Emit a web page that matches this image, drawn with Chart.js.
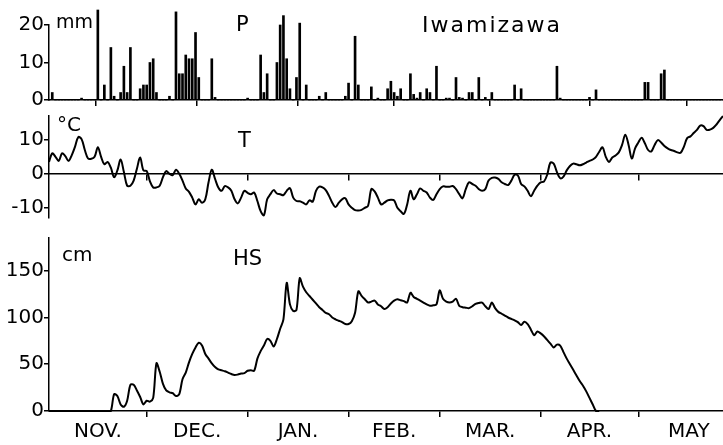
<!DOCTYPE html>
<html>
<head>
<meta charset="utf-8">
<script src="https://cdn.jsdelivr.net/npm/chart.js@4.4.0/dist/chart.umd.min.js"></script>
<style>
  body { margin: 0; background: #fff; }
  #wrap { position: relative; width: 723px; height: 445px; overflow: hidden; }
  .panel { position: absolute; left: 0; width: 723px; }
</style>
</head>
<body>
<div id="wrap">
  <div class="panel" style="top:0;height:112px"><canvas id="pChart"></canvas></div>
  <div class="panel" style="top:104px;height:126px"><canvas id="tChart"></canvas></div>
  <div class="panel" style="top:226px;height:219px"><canvas id="hsChart"></canvas></div>
</div>
<script>
// day 0 = 1 Nov, one value per day
const monthNames = ['NOV.', 'DEC.', 'JAN.', 'FEB.', 'MAR.', 'APR.', 'MAY'];
const monthStarts = [0, 30, 61, 92, 120, 151, 181];
const monthMids = [15, 45.5, 76.5, 106, 135.5, 166, 196.5];
const lastDay = 207;

// daily precipitation, mm
const precip = [
  0, 2, 0, 0, 0, 0, 0, 0, 0, 0,
  0.5, 0, 0, 0, 0, 24, 0, 4, 0, 14,
  1, 0, 2, 9, 2, 14, 0, 0, 3, 4,
  4, 10, 11, 2, 0, 0, 0, 1, 0, 23.5,
  7, 7, 12, 11, 11, 18, 6, 0, 0, 0,
  11, 0.7, 0, 0, 0, 0, 0, 0, 0, 0,
  0, 0.5, 0, 0, 0, 12, 2, 7, 0, 0,
  10, 20, 22.5, 11, 3, 0, 6, 20.5, 0, 4,
  0, 0, 0, 1, 0, 2, 0, 0, 0, 0,
  0, 1, 4.5, 0, 17, 4, 0, 0, 0, 3.5,
  0, 0.5, 0, 0, 3, 5, 2, 1, 3, 0,
  0, 7, 1.5, 0.5, 2, 0, 3, 2, 0, 9,
  0, 0, 0.5, 0.5, 0, 6, 0.7, 0.5, 0, 2,
  2, 0, 6, 0, 0.7, 0, 2, 0, 0, 0,
  0, 0, 0, 4, 0, 3, 0, 0, 0, 0,
  0, 0, 0, 0, 0, 0, 9, 0.5, 0, 0,
  0, 0, 0, 0, 0, 0, 0.7, 0, 2.7, 0,
  0, 0, 0, 0, 0, 0, 0, 0, 0, 0,
  0, 0, 0, 4.7, 4.7, 0, 0, 0, 7, 8,
  0, 0, 0, 0, 0, 0, 0, 0, 0, 0,
  0, 0, 0, 0, 0, 0, 0, 0
];

// daily mean air temperature, deg C
const temp = [
  3.5, 6, 5, 3.8, 6, 5.2, 3.8, 5.5, 8, 10.8,
  10.2, 7, 4.5, 4.4, 5, 7.8, 5, 2.8, 3.5, 1.8,
  -1, 1, 4.2, 0.5, -3.5, -3.5, -2, 1.5, 4.8, 1,
  0.8, -2.2, -4, -4, -3.5, -1, 0.8, 0, -0.4, 1.2,
  0, -2, -4.3, -5.3, -7, -9, -7.5, -8.5, -7.5, -2.5,
  1.2, -1.5, -4, -5, -3.6, -4, -5, -7.5, -8.7, -7,
  -5, -5.6, -6, -5.5, -8, -11, -12.2, -7.5, -6, -4.8,
  -5.8, -6, -6.3, -5, -4.2, -7, -8, -8.1, -8.5, -9,
  -7.8, -8.2, -5, -3.8, -4, -4.8, -6.5, -8.5, -9.8, -8.5,
  -7.5, -7.2, -9, -10, -10.7, -10.8, -10.6, -10, -9.4, -4.5,
  -5.2, -7, -9, -8.5, -7.8, -7.6, -7.8, -10, -11, -11.8,
  -9, -5, -7.5, -6, -4.3, -5, -5.5, -7, -7.7, -6,
  -4.5, -3.7, -3.8, -3.8, -3.6, -4.5, -6, -7.2, -4.5, -2.5,
  -3, -3.5, -4.5, -5, -4.5, -2, -1.2, -1.1, -1.5, -2.5,
  -3, -3.3, -2, -0.3, -0.5, -3, -3.7, -5, -6.6, -5,
  -3.5, -2.5, -2.3, -0.3, 3.3, 3, 0.5, -1.3, -0.8, 1,
  2.3, 3, 2.8, 2.5, 2.8, 3.3, 3.8, 4.2, 5, 6.5,
  7.8, 5, 3.5, 4.8, 5.4, 6.3, 8.5, 11.5, 8.5, 4.5,
  7.5, 9.2, 10.6, 9, 7, 6.6, 8.5, 9.9, 9.2, 8.2,
  7.5, 7, 6.7, 6.3, 6.2, 8, 10.5, 11, 12, 12.9,
  14.2, 14, 12.9, 13, 13.5, 14.5, 15.8, 17
];

// daily snow depth, cm
const snowDepth = [
  0, 0, 0, 0, 0, 0, 0, 0, 0, 0,
  0, 0, 0, 0, 0, 0, 0, 0, 0, 0,
  18, 16, 7, 4.5, 11, 28, 28, 22, 15, 7,
  11, 10, 14, 51, 42, 29, 22, 20, 19, 16,
  18, 34, 41, 52, 61, 68, 73, 70, 61, 56,
  51, 47, 44.5, 43.5, 42.5, 41, 39.5, 38.5, 39, 40,
  40.5, 43, 43.5, 43, 56, 64, 70, 77, 75, 69,
  77, 88, 98, 137, 114, 107, 108, 142, 133, 127,
  123, 119, 115, 111, 108, 105, 103.5, 100, 98, 96.5,
  95, 93, 93, 96, 105, 128, 123, 119.5, 116, 117,
  118, 114, 112, 109, 111, 115, 118, 119.5, 118.5, 117.5,
  116, 126.5, 122, 120, 118, 116, 114, 112.5, 113, 114,
  129, 120, 117, 116, 117, 120, 112.5, 111, 110.5, 110,
  112, 114.5, 115.5, 116, 112, 109, 116, 110, 106, 104,
  102, 100, 98.5, 97, 95, 92, 95.5, 93, 87, 81,
  85, 83, 80, 76, 72, 68, 71, 70, 63, 56,
  50, 44, 38, 32, 27, 21, 14, 7, 0, 0
];

const FONT = '"DejaVu Sans", Verdana, sans-serif';
const INK = '#000';

const textPlugin = {
  id: 'panelText',
  afterDraw(chart, args, opts) {
    const ctx = chart.ctx;
    ctx.save();
    ctx.fillStyle = INK;
    ctx.textBaseline = 'alphabetic';
    for (const t of opts.items || []) {
      ctx.font = t.size + 'px ' + FONT;
      ctx.letterSpacing = (t.spacing || 0) + 'px';
      ctx.fillText(t.text, t.x, t.y);
    }
    ctx.restore();
  }
};

function xAxis(tickValues, withLabels, extra) {
  return Object.assign({
    type: 'linear',
    min: 0,
    max: lastDay,
    offset: false,
    afterBuildTicks: s => { s.ticks = tickValues.map(v => ({ value: v })); },
    grid: {
      drawOnChartArea: false,
      tickLength: 6,
      lineWidth: 1.5,
      tickColor: c => (c.tick && c.tick.label) ? 'rgba(0,0,0,0)' : INK
    },
    border: { color: INK, width: 1.5 },
    ticks: {
      display: withLabels,
      autoSkip: false,
      maxRotation: 0,
      padding: 3,
      color: INK,
      font: { family: FONT, size: 20 },
      callback: v => {
        const i = monthMids.indexOf(v);
        return i >= 0 ? monthNames[i] : '';
      }
    }
  }, extra);
}

function yAxis(min, max, tickValues) {
  return {
    min: min,
    max: max,
    afterBuildTicks: s => { s.ticks = tickValues.map(v => ({ value: v })); },
    afterFit: s => { s.width = 49; },
    grid: { drawOnChartArea: false, tickLength: 5, lineWidth: 1.5, tickColor: INK },
    border: { color: INK, width: 1.5 },
    ticks: { autoSkip: false, padding: 0, color: INK, font: { family: FONT, size: 20 } }
  };
}

const baseOptions = {
  responsive: true,
  maintainAspectRatio: false,
  animation: false,
  events: []
};

const boundaries = monthStarts.slice(1);

// Precipitation
new Chart(document.getElementById('pChart'), {
  type: 'bar',
  data: {
    datasets: [{
      data: precip.map((v, i) => ({ x: i, y: v })),
      backgroundColor: INK,
      barThickness: 2,
      clip: false
    }]
  },
  options: Object.assign({}, baseOptions, {
    layout: { padding: { top: 25, right: 0, left: 0, bottom: 0 } },
    plugins: {
      legend: { display: false },
      tooltip: { enabled: false },
      panelText: { items: [
        { text: 'mm', x: 56, y: 28, size: 19 },
        { text: 'P', x: 236, y: 31, size: 21 },
        { text: 'Iwamizawa', x: 422, y: 32, size: 22, spacing: 2 }
      ] }
    },
    scales: {
      x: xAxis(boundaries, false, { afterFit: s => { s.height = 12; } }),
      y: yAxis(0, 20, [0, 10, 20])
    }
  }),
  plugins: [textPlugin]
});

// Air temperature
new Chart(document.getElementById('tChart'), {
  type: 'line',
  data: {
    datasets: [{
      data: temp.map((v, i) => ({ x: i, y: v })),
      borderColor: INK,
      borderWidth: 2,
      pointRadius: 0,
      tension: 0.35,
      clip: false
    }]
  },
  options: Object.assign({}, baseOptions, {
    layout: { padding: { top: 9, right: 0, left: 0, bottom: 2 } },
    plugins: {
      legend: { display: false },
      tooltip: { enabled: false },
      panelText: { items: [
        { text: '°C', x: 57, y: 27, size: 20 },
        { text: 'T', x: 238, y: 43, size: 21 }
      ] }
    },
    scales: {
      x: xAxis(boundaries, false, { position: { y: 0 } }),
      y: yAxis(-13, 17, [-10, 0, 10])
    }
  }),
  plugins: [textPlugin]
});

// Snow depth
const hsTicks = boundaries.concat(monthMids).sort((a, b) => a - b);
new Chart(document.getElementById('hsChart'), {
  type: 'line',
  data: {
    datasets: [{
      data: snowDepth.map((v, i) => ({ x: i, y: v })),
      borderColor: INK,
      borderWidth: 2,
      pointRadius: 0,
      tension: 0.3,
      clip: false
    }]
  },
  options: Object.assign({}, baseOptions, {
    layout: { padding: { top: 9, right: 0, left: 0, bottom: 0 } },
    plugins: {
      legend: { display: false },
      tooltip: { enabled: false },
      panelText: { items: [
        { text: 'cm', x: 62, y: 35, size: 20 },
        { text: 'HS', x: 233, y: 39, size: 21 }
      ] }
    },
    scales: {
      x: xAxis(hsTicks, true, { afterFit: s => { s.height = 34; } }),
      y: yAxis(0, 185, [0, 50, 100, 150])
    }
  }),
  plugins: [textPlugin]
});
</script>
</body>
</html>
